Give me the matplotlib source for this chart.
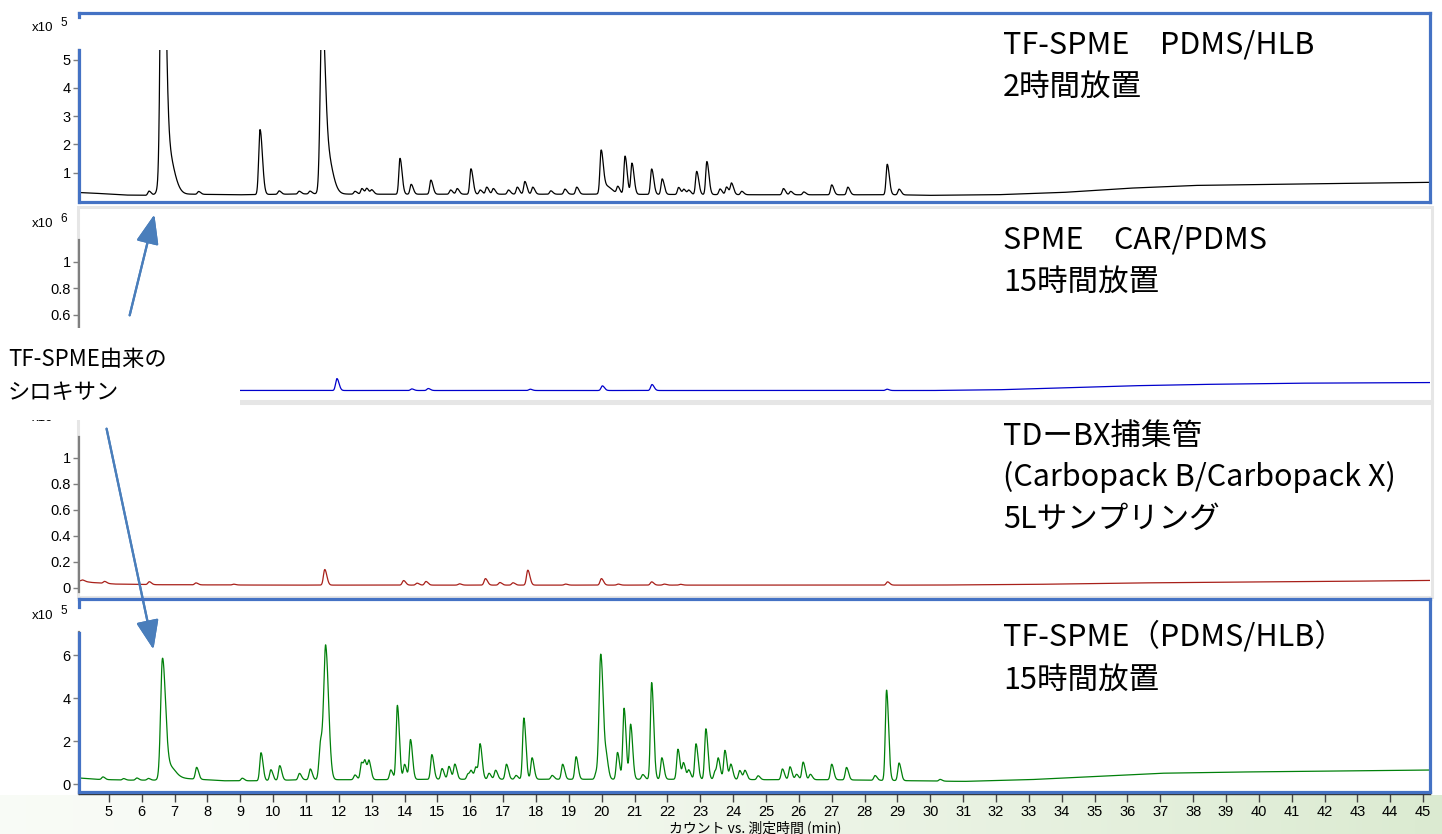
import numpy as np
import matplotlib
matplotlib.use('Agg')
import matplotlib.pyplot as plt
from matplotlib.lines import Line2D
from matplotlib.patches import Rectangle

W, H = 1442, 834
plt.rcParams['font.family'] = ['Liberation Sans', 'Noto Sans CJK JP', 'DejaVu Sans']
JP = ['Noto Sans CJK JP', 'DejaVu Sans']

# ---- data (retention time in min, counts in panel units) ----
# panel 1: TF-SPME PDMS/HLB 2h (x10^5)
black_base_t = [4.09, 4.5, 5.5, 6.2, 7.5, 9.0, 11.0, 13.0, 16.0, 20.0, 25.0, 29.0, 30.0, 32.0, 34.0, 36.0, 38.0, 41.0, 45.21]
black_base_v = [0.30, 0.28, 0.21, 0.20, 0.24, 0.22, 0.25, 0.24, 0.24, 0.24, 0.22, 0.22, 0.20, 0.22, 0.30, 0.45, 0.55, 0.60, 0.66]
black_rt = [6.22, 6.62, 6.72, 7.73, 9.6, 10.18, 10.79, 11.12, 11.48, 11.6, 12.49, 12.7, 12.85, 13.0,
            13.86, 14.2, 14.8, 15.4, 15.6, 16.02, 16.3, 16.5, 16.7, 17.16, 17.43, 17.66, 17.9, 18.45,
            18.88, 19.24, 19.98, 20.12, 20.49, 20.71, 20.92, 21.52, 21.84, 22.34, 22.5, 22.65, 22.89,
            23.2, 23.6, 23.8, 23.95, 24.26, 25.53, 25.75, 26.15, 27.0, 27.49, 28.69, 29.05]
black_h = [0.15, 12.0, 1.9, 0.1, 2.3, 0.12, 0.1, 0.1, 5.6, 1.6, 0.1, 0.2, 0.2, 0.15,
           1.27, 0.35, 0.5, 0.15, 0.2, 0.9, 0.15, 0.25, 0.2, 0.15, 0.25, 0.45, 0.25, 0.12,
           0.18, 0.25, 1.45, 0.3, 0.25, 1.35, 1.1, 0.9, 0.55, 0.25, 0.18, 0.15, 0.82,
           1.17, 0.2, 0.27, 0.4, 0.12, 0.22, 0.12, 0.1, 0.35, 0.27, 1.08, 0.2]
black_wide = {6.62: 0.05, 6.72: 0.12, 9.6: 0.04, 11.48: 0.05, 11.6: 0.1, 20.12: 0.1}

# panel 2: SPME CAR/PDMS 15h (x10^6)
blue_base_t = [4.09, 30.0, 32.0, 34.0, 36.0, 38.0, 41.0, 45.21]
blue_base_v = [0.03, 0.03, 0.035, 0.05, 0.065, 0.075, 0.085, 0.09]
blue_rt = [11.94, 14.22, 14.72, 17.82, 20.02, 21.53, 28.68]
blue_h = [0.09, 0.012, 0.015, 0.01, 0.035, 0.045, 0.01]

# panel 3: TD-BX tube 5L (x10^6)
red_base_t = [4.09, 4.5, 5.2, 6.5, 10.0, 20.0, 30.0, 33.0, 36.0, 39.0, 42.0, 45.21]
red_base_v = [0.055, 0.042, 0.03, 0.025, 0.022, 0.022, 0.022, 0.027, 0.038, 0.045, 0.05, 0.058]
red_rt = [4.2, 4.87, 6.23, 7.65, 8.8, 11.57, 13.97, 14.38, 14.65, 15.67, 16.46, 16.9, 17.3,
          17.75, 18.9, 19.99, 20.5, 21.52, 21.9, 22.4, 28.7]
red_h = [0.01, 0.015, 0.022, 0.015, 0.006, 0.12, 0.035, 0.015, 0.028, 0.01, 0.05, 0.02, 0.018,
         0.115, 0.008, 0.05, 0.008, 0.025, 0.008, 0.006, 0.025]

# panel 4: TF-SPME (PDMS/HLB) 15h (x10^5)
green_base_t = [4.09, 4.6, 5.5, 6.4, 7.0, 7.4, 8.5, 9.5, 11.0, 13.0, 15.0, 17.0, 19.0, 21.0, 23.0,
                25.0, 27.0, 29.5, 31.0, 33.0, 35.0, 37.0, 39.0, 42.0, 45.21]
green_base_v = [0.28, 0.22, 0.18, 0.18, 0.3, 0.25, 0.15, 0.15, 0.2, 0.2, 0.22, 0.22, 0.22, 0.22, 0.22,
                0.2, 0.2, 0.15, 0.12, 0.2, 0.35, 0.5, 0.55, 0.6, 0.65]
green_rt = [4.82, 5.45, 5.85, 6.2, 6.63, 6.8, 7.67, 9.06, 9.63, 9.93, 10.2, 10.8, 11.13, 11.45, 11.6,
            12.49, 12.69, 12.8, 12.92, 13.58, 13.78, 14.0, 14.18, 14.83, 15.14, 15.35, 15.53, 15.93,
            16.03, 16.17, 16.3, 16.57, 16.77, 17.1, 17.39, 17.63, 17.88, 18.49, 18.81, 19.22, 19.83,
            19.97, 20.15, 20.48, 20.68, 20.88, 21.25, 21.52, 21.83, 22.32, 22.49, 22.65, 22.87, 23.17,
            23.45, 23.55, 23.75, 23.93, 24.2, 24.36, 24.76, 25.5, 25.73, 25.93, 26.13, 26.35, 27.0,
            27.45, 28.32, 28.67, 29.05, 30.3]
green_h = [0.12, 0.07, 0.1, 0.08, 5.4, 0.6, 0.55, 0.12, 1.3, 0.5, 0.68, 0.3, 0.5, 1.8, 5.95,
           0.22, 0.8, 0.75, 0.8, 0.45, 3.45, 0.7, 1.85, 1.15, 0.5, 0.6, 0.7, 0.25,
           0.35, 0.55, 1.6, 0.28, 0.42, 0.7, 0.18, 2.85, 1.0, 0.18, 0.7, 1.05, 0.28,
           5.8, 0.75, 1.25, 3.3, 2.55, 0.22, 4.5, 1.0, 1.4, 0.75, 0.42, 1.65, 2.35,
           0.38, 0.9, 1.35, 0.7, 0.42, 0.42, 0.18, 0.5, 0.6, 0.25, 0.82, 0.25, 0.72,
           0.58, 0.22, 4.2, 0.82, 0.08]
green_wide = {6.63: 0.055, 6.8: 0.12, 11.45: 0.05, 11.6: 0.055, 19.97: 0.05}

x_ticks = list(range(5, 46))
titles = [["TF-SPME　PDMS/HLB", "2時間放置"],
          ["SPME　CAR/PDMS", "15時間放置"],
          ["TDーBX捕集管", "(Carbopack B/Carbopack X)", "5Lサンプリング"],
          ["TF-SPME（PDMS/HLB）", "15時間放置"]]
# lower ticks of panel 2 sit under the callout box in the reference
yticks = [[1, 2, 3, 4, 5], [0.6, 0.8, 1], [0, 0.2, 0.4, 0.6, 0.8, 1], [0, 2, 4, 6]]
ylabels = [['1', '2', '3', '4', '5'], ['0.6', '0.8', '1'],
           ['0', '0.2', '0.4', '0.6', '0.8', '1'], ['0', '2', '4', '6']]


def fx(x):
    return x / W


def fy(y):
    return 1 - y / H


def chrom(t, base_t, base_v, rt, h, w, tail):
    y = np.interp(t, base_t, base_v)
    for r, hh, ww in zip(rt, h, w):
        s = np.where(t < r, ww, ww * tail)
        y = y + hh * np.exp(-0.5 * ((t - r) / s) ** 2)
    return y


t = np.arange(4.09, 45.21, 0.004)
traces = [
    chrom(t, black_base_t, black_base_v, black_rt, black_h, [black_wide.get(r, 0.035) for r in black_rt], 1.8),
    chrom(t, blue_base_t, blue_base_v, blue_rt, blue_h, [0.04] * len(blue_rt), 1.6),
    chrom(t, red_base_t, red_base_v, red_rt, red_h, [0.04] * len(red_rt), 1.6),
    chrom(t, green_base_t, green_base_v, green_rt, green_h, [green_wide.get(r, 0.038) for r in green_rt], 1.6),
]
colors = ['#000000', '#0000cc', '#a8201a', '#00800a']
# (top px, bottom px, ylim)
boxes = [(50, 200, (0.035, 5.345)), (240, 397, (-0.019, 1.166)),
         (437, 592, (-0.031, 1.1615)), (632, 794, (-0.465, 7.07))]
exps = [('5', 28), ('6', 224), ('6', 418), ('5', 616)]
title_y = [[45, 87], [240, 282], [436, 477, 519], [637, 680]]

fig = plt.figure(figsize=(W / 100, H / 100), dpi=100)

# faint slide background along the bottom
bg = fig.add_axes([0, 0, 1, 1], zorder=-10)
bg.axis('off')
grad = np.ones((40, 200, 3))
left_c = np.array([0.975, 0.985, 0.965])
right_c = np.array([0.86, 0.92, 0.82])
for i in range(200):
    grad[:, i, :] = left_c + (right_c - left_c) * (i / 199) ** 1.5
bg.imshow(grad, extent=[0, W, H, 795], aspect='auto', interpolation='bilinear')
bg.set_xlim(0, W)
bg.set_ylim(H, 0)

# light grey panel frames of the middle panels
for top, bot in [(207, 401), (403, 597)]:
    fig.add_artist(Rectangle((fx(78), fy(bot)), fx(1432) - fx(78), (bot - top) / H, transform=fig.transFigure,
                             facecolor='none', edgecolor='#e6e6e6', lw=2.2, zorder=-5))

for k in range(4):
    top, bot, yl = boxes[k]
    ax = fig.add_axes([fx(79), fy(bot), (1430 - 79) / W, (bot - top) / H])
    ax.plot(t, traces[k], color=colors[k], lw=0.9)
    ax.set_xlim(4.09, 45.21)
    ax.set_ylim(*yl)
    ax.patch.set_alpha(0)
    for s in ['top', 'right', 'bottom']:
        ax.spines[s].set_visible(False)
    ax.spines['left'].set_color('#7f7f7f')
    ax.spines['left'].set_linewidth(1.6)
    ax.set_yticks(yticks[k])
    ax.set_yticklabels(ylabels[k])
    ax.tick_params(axis='y', direction='out', length=4, width=1, color='#7f7f7f', labelsize=10.5, pad=2)
    if k == 3:
        ax.spines['bottom'].set_visible(True)
        ax.spines['bottom'].set_color('#333333')
        ax.spines['bottom'].set_linewidth(1)
        ax.set_xticks(x_ticks)
        ax.tick_params(axis='x', direction='out', length=6, width=1, color='#444444', labelsize=10.5, pad=2)
    else:
        ax.set_xticks([])

    e, ey = exps[k]
    fig.text(fx(32), fy(ey), 'x10', fontsize=9.5, va='center', ha='left')
    fig.text(fx(60), fy(ey - 5), e, fontsize=8.5, va='center', ha='left')

    for line, ly in zip(titles[k], title_y[k]):
        fig.text(fx(1003), fy(ly), line, fontsize=22, va='center', ha='left', family=JP, zorder=6)

# blue highlight frames around panels 1 and 4
blue = '#4472c4'
for top, bot, gap0, gap1 in [(13, 202, 17, 50), (599, 792, 607, 633)]:
    segs = [([79, 1430], [top, top]), ([1430, 1430], [top, bot]), ([79, 1430], [bot, bot]),
            ([79, 79], [top, gap0]), ([79, 79], [gap1, bot])]
    for xs, ys in segs:
        fig.add_artist(Line2D([fx(v) for v in xs], [fy(v) for v in ys], transform=fig.transFigure,
                              color=blue, lw=2.3, solid_capstyle='projecting', zorder=4))

# callout box
fig.add_artist(Rectangle((0, fy(420)), fx(240), (420 - 328) / H, transform=fig.transFigure,
                         facecolor='white', edgecolor='none', zorder=5))
fig.text(fx(8), fy(360), 'TF-SPME由来の', fontsize=16, va='center', ha='left', family=JP, zorder=6)
fig.text(fx(8), fy(393), 'シロキサン', fontsize=16, va='center', ha='left', family=JP, zorder=6)

arrow = dict(arrowstyle='-|>,head_length=0.9,head_width=0.35', lw=1.6, color='#4a7ebb', mutation_scale=20)
fig.add_artist(plt.annotate('', xy=(fx(155), fy(212)), xytext=(fx(129), fy(318)),
                            xycoords='figure fraction', textcoords='figure fraction', arrowprops=arrow))
fig.add_artist(plt.annotate('', xy=(fx(154), fy(652)), xytext=(fx(106), fy(426)),
                            xycoords='figure fraction', textcoords='figure fraction', arrowprops=arrow))

fig.text(fx(755), fy(828), 'カウント vs. 測定時間 (min)', fontsize=10, ha='center', va='center', family=JP)

fig.savefig('out.png', dpi=100)
